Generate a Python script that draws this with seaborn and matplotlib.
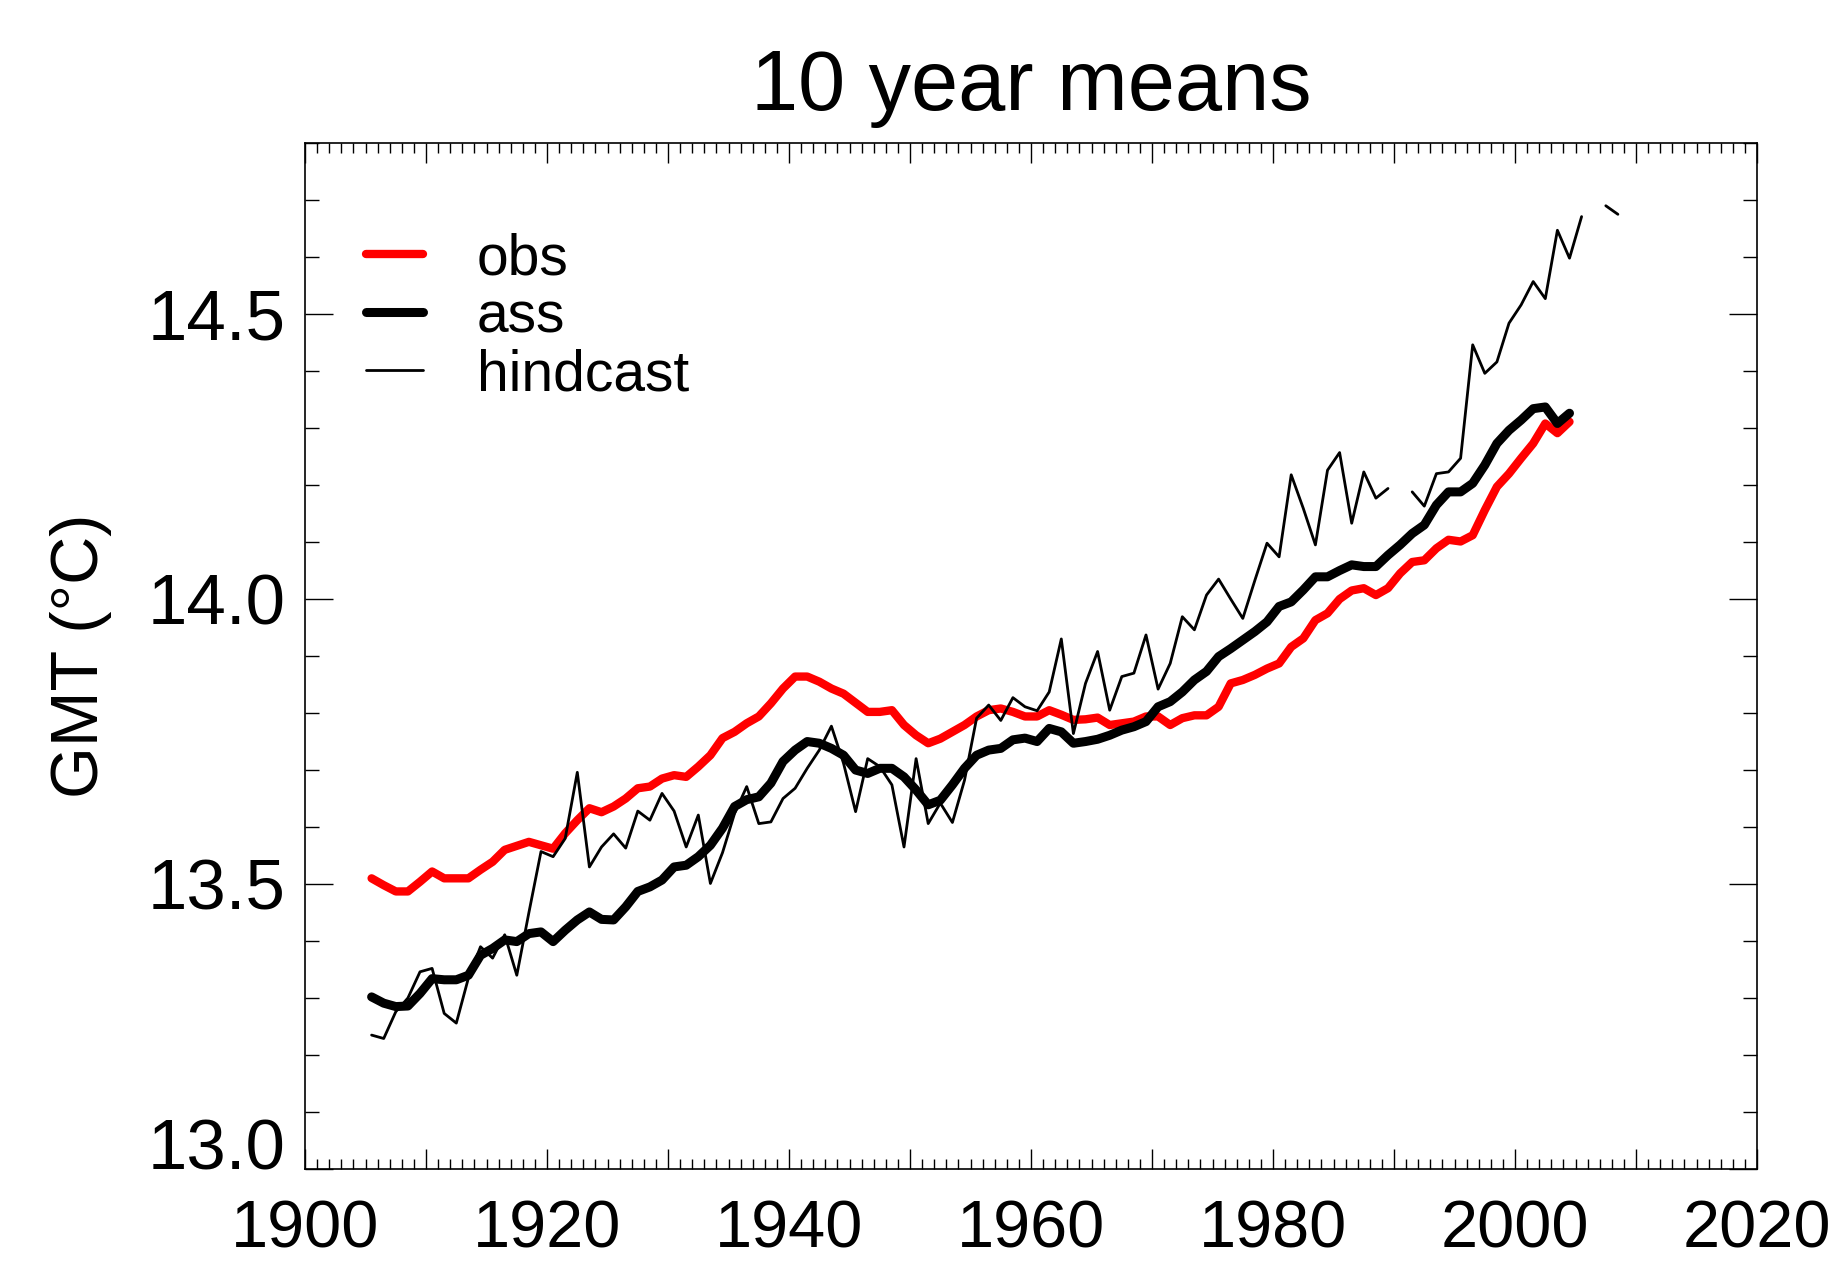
import numpy as np
import pandas as pd
import seaborn as sns
import matplotlib.pyplot as plt
from matplotlib.lines import Line2D
from matplotlib.ticker import MultipleLocator

# 10-year running means of global mean temperature, plotted at mid-year
years = np.arange(1905.5, 2005.0, 1.0)
hind_years = np.arange(1905.5, 2009.0, 1.0)

obs = [13.510, 13.498, 13.487, 13.487, 13.504, 13.522, 13.510, 13.510, 13.510, 13.525,
       13.539, 13.560, 13.567, 13.574, 13.568, 13.562, 13.589, 13.612, 13.633, 13.626,
       13.636, 13.650, 13.668, 13.671, 13.685, 13.691, 13.688, 13.706, 13.726, 13.756,
       13.767, 13.782, 13.794, 13.817, 13.843, 13.864, 13.864, 13.855, 13.843, 13.834,
       13.818, 13.802, 13.802, 13.805, 13.779, 13.761, 13.747, 13.755, 13.767, 13.779,
       13.794, 13.805, 13.808, 13.802, 13.794, 13.794, 13.805, 13.797, 13.788, 13.789,
       13.792, 13.779, 13.782, 13.785, 13.794, 13.794, 13.779, 13.791, 13.796, 13.796,
       13.811, 13.852, 13.858, 13.867, 13.878, 13.887, 13.916, 13.931, 13.963, 13.975,
       14.000, 14.015, 14.019, 14.007, 14.019, 14.045, 14.065, 14.068, 14.089, 14.104,
       14.101, 14.112, 14.156, 14.197, 14.220, 14.247, 14.273, 14.308, 14.291, 14.311]

ass = [13.302, 13.291, 13.285, 13.286, 13.308, 13.334, 13.332, 13.332, 13.340, 13.375,
       13.387, 13.402, 13.399, 13.413, 13.416, 13.399, 13.419, 13.437, 13.451, 13.438,
       13.437, 13.460, 13.487, 13.495, 13.507, 13.530, 13.533, 13.548, 13.568, 13.598,
       13.636, 13.648, 13.653, 13.677, 13.715, 13.735, 13.750, 13.747, 13.738, 13.726,
       13.700, 13.694, 13.703, 13.703, 13.688, 13.665, 13.639, 13.647, 13.674, 13.703,
       13.726, 13.735, 13.738, 13.753, 13.756, 13.750, 13.773, 13.767, 13.747, 13.750,
       13.754, 13.761, 13.770, 13.776, 13.785, 13.811, 13.820, 13.837, 13.858, 13.873,
       13.899, 13.913, 13.928, 13.943, 13.960, 13.987, 13.995, 14.016, 14.039, 14.039,
       14.050, 14.060, 14.057, 14.057, 14.077, 14.095, 14.115, 14.130, 14.165, 14.188,
       14.188, 14.203, 14.235, 14.273, 14.296, 14.314, 14.334, 14.337, 14.308, 14.326]

hindcast = [13.235, 13.229, 13.276, 13.300, 13.346, 13.352, 13.273, 13.256, 13.335, 13.390,
            13.370, 13.411, 13.340, 13.450, 13.557, 13.548, 13.580, 13.696, 13.530, 13.565,
            13.588, 13.563, 13.628, 13.612, 13.659, 13.628, 13.565, 13.621, 13.501, 13.555,
            13.624, 13.671, 13.606, 13.609, 13.650, 13.668, 13.703, 13.735, 13.777, 13.712,
            13.627, 13.720, 13.706, 13.674, 13.565, 13.720, 13.606, 13.642, 13.608, 13.682,
            13.791, 13.814, 13.787, 13.827, 13.811, 13.804, 13.837, 13.930, 13.764, 13.852,
            13.908, 13.805, 13.864, 13.870, 13.937, 13.842, 13.887, 13.969, 13.946, 14.007,
            14.035, 14.000, 13.966, 14.033, 14.098, 14.074, 14.218, 14.159, 14.095, 14.226,
            14.257, 14.133, 14.223, 14.177, 14.194, np.nan, 14.188, 14.163, 14.220, 14.223,
            14.247, 14.446, 14.396, 14.416, 14.484, 14.516, 14.557, 14.527, 14.647, 14.598,
            14.671, np.nan, 14.690, 14.675]

sns.set_style("ticks")
plt.rcParams['font.family'] = ['Liberation Sans', 'DejaVu Sans']

fig = plt.figure(figsize=(18.41, 12.66), dpi=100)
ax = fig.add_axes([0.1657, 0.0766, 0.7887, 0.8104])

df = pd.DataFrame({'year': years, 'obs': obs, 'ass': ass})
hc = pd.DataFrame({'year': hind_years, 'gmt': hindcast})
hc['seg'] = hc['gmt'].isna().cumsum()  # gaps split the hindcast into pieces
hc = hc.dropna()

sns.lineplot(data=df, x='year', y='obs', color='red', lw=6, ax=ax)
sns.lineplot(data=df, x='year', y='ass', color='black', lw=6.5, ax=ax)
sns.lineplot(data=hc, x='year', y='gmt', units='seg', estimator=None,
             color='black', lw=2, ax=ax)

ax.set_xlim(1900, 2020)
ax.set_ylim(13.0, 14.8)

xt = np.arange(1900, 2021, 10)
ax.set_xticks(xt)
ax.set_xticklabels([str(y) if y % 20 == 0 else '' for y in xt])
ax.xaxis.set_minor_locator(MultipleLocator(1))
ax.set_yticks([13.0, 13.5, 14.0, 14.5])
ax.set_yticklabels(['13.0', '13.5', '14.0', '14.5'])
ax.yaxis.set_minor_locator(MultipleLocator(0.1))

ax.tick_params(axis='both', which='both', direction='in', top=True, right=True,
               width=1.0, color='black', labelcolor='black')
ax.tick_params(axis='x', which='major', length=14.4, pad=22, labelsize=48)
ax.tick_params(axis='x', which='minor', length=7.2)
ax.tick_params(axis='y', which='major', length=20, pad=14, labelsize=51)
ax.tick_params(axis='y', which='minor', length=10)
ax.get_yticklabels()[0].set_va('baseline')

for s in ax.spines.values():
    s.set_color('black')
    s.set_linewidth(1.2)

ax.set_xlabel('')
ax.set_ylabel('GMT (°C)', fontsize=48, color='black')
ax.yaxis.set_label_coords(-0.133, 0.5)
ax.set_title('10 year means', fontsize=61, pad=24, color='black')

handles = [Line2D([], [], color='red', lw=6),
           Line2D([], [], color='black', lw=6.5),
           Line2D([], [], color='black', lw=2)]
ax.legend(handles, ['obs', 'ass', 'hindcast'], loc='upper left',
          bbox_to_anchor=(0.042, 0.913), frameon=False, fontsize=41,
          labelcolor='black', handlelength=1.0, handletextpad=0.95,
          labelspacing=0.07, borderpad=0, borderaxespad=0)

fig.savefig('out.png', dpi=100)
